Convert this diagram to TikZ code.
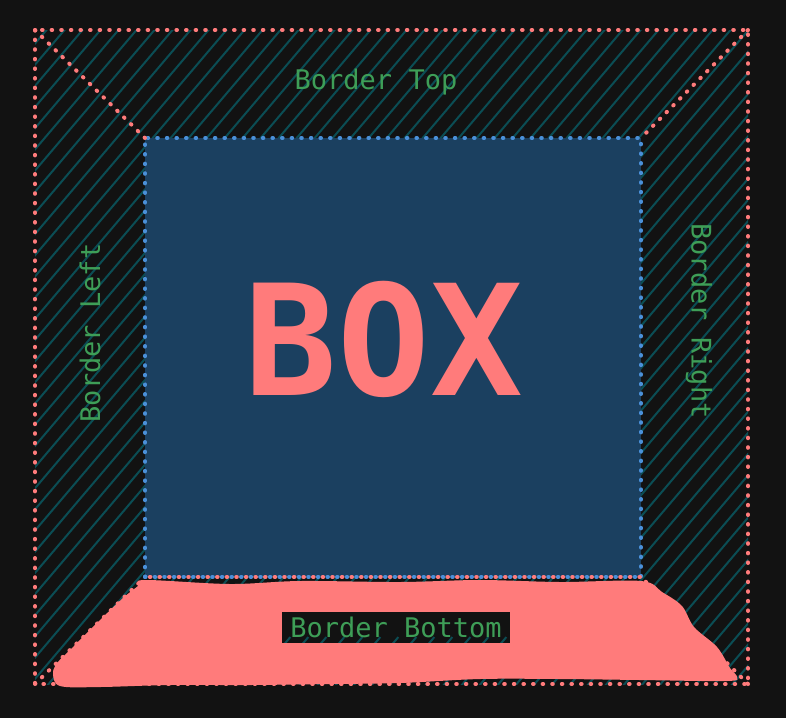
\documentclass[tikz,border=0pt]{standalone}
\usepackage{fontspec}
\setmonofont{DejaVu Sans Mono}
\usetikzlibrary{positioning}
\definecolor{bgcol}{HTML}{121212}
\definecolor{boxpink}{HTML}{FF7B7B}
\definecolor{boxblue}{HTML}{1B4060}
\definecolor{dotblue}{HTML}{4A90D9}
\definecolor{hatchcol}{HTML}{0B4D54}
\definecolor{labelgreen}{HTML}{3E9E57}
\tikzset{
  pinkdots/.style={
    draw=boxpink,
    line width=4pt,
    line cap=round,
    dash pattern=on 0.6pt off 9pt
  },
  bluedots/.style={
    draw=dotblue,
    line width=4pt,
    line cap=round,
    dash pattern=on 0.6pt off 9pt
  },
  hatch/.style={
    draw=hatchcol,
    line width=2pt
  },
  region/.style={
    inner sep=0pt,
    outer sep=0pt
  },
  sidelabel/.style={
    text=labelgreen,
    font=\ttfamily\fontsize{27}{31}\selectfont
  },
  labelbox/.style={
    sidelabel,
    fill=bgcol,
    inner sep=0pt,
    minimum width=228pt,
    minimum height=31pt,
    path picture={
      \foreach \c in {0,18,...,1500}
        \draw[hatch] (\c,0) -- (\c-680,800);
    }
  }
}
\begin{document}
\begin{tikzpicture}[x=1pt, y=-1pt]
% background and bounds
\fill[bgcol] (0,0) rectangle (786,718);
\useasboundingbox (0,0) rectangle (786,718);

% the two boxes
\node[region, minimum width=713pt, minimum height=654pt] (outer) at (391.5,357) {};
\node[region, minimum width=496pt, minimum height=439pt] (inner) at (393,357.5) {};

% hatching of the border ring
\begin{scope}
  \clip (outer.south west) rectangle (outer.north east);
  \foreach \c in {0,18,...,1500}
    \draw[hatch] (\c,0) -- (\c-680,800);
\end{scope}

% content box
\fill[boxblue] (inner.south west) rectangle (inner.north east);
\draw[bluedots] (inner.south west) -- (inner.north west) -- (inner.north east) -- (inner.south east);
\draw[bluedots] (inner.south west) -- (inner.south east);

% border edges
\draw[pinkdots] (outer.north west) rectangle (outer.south east);
\draw[pinkdots] (outer.north west) -- (inner.north west);
\draw[pinkdots] (outer.north east) -- (inner.north east);
\draw[pinkdots] (outer.south west) -- (inner.south west);
\draw[pinkdots] (outer.south east) -- (inner.south east);
\draw[pinkdots, dash phase=4.8pt] (inner.south west) -- (inner.south east);

% scribble over the bottom border
\fill[boxpink] plot[smooth cycle, tension=0.55] coordinates {
  (145,580) (230,584) (300,581) (400,582) (480,580) (560,582) (641,581)
  (662,592) (682,606) (694,627) (717,647) (730,668) (737,677)
  (727,681) (640,680) (560,679) (480,679) (400,683) (330,684)
  (250,685) (170,685) (100,687) (60,686) (53,673) (58,662)
  (70,650) (97,623) (123,598) (138,586)
};

% labels
\node[sidelabel] (toplabel) at (376,82) {Border Top};
\node[sidelabel, rotate=90] (leftlabel) at (90,333) {Border Left};
\node[sidelabel, rotate=-90] (rightlabel) at (699,321) {Border Right};
\node[labelbox] (bottomlabel) at (396,627) {Border Bottom};
\node[text=boxpink, font=\ttfamily\bfseries\fontsize{154}{154}\selectfont] (boxlabel) at (384,339) {BOX};
\end{tikzpicture}
\end{document}
